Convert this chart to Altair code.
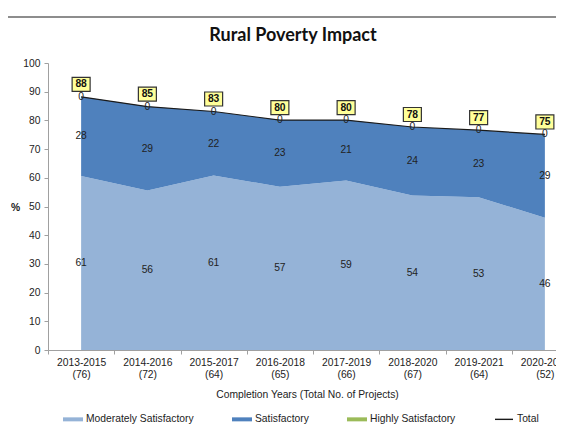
import altair as alt
import pandas as pd

# ---- data ----
periods = ["2013-2015", "2014-2016", "2015-2017", "2016-2018",
           "2017-2019", "2018-2020", "2019-2021", "2020-2022"]
projects = [76, 72, 64, 65, 66, 67, 64, 52]
moderately = [60.6, 55.6, 60.8, 56.9, 59.1, 53.8, 53.2, 46.1]
satisfactory = [27.6, 29.2, 22.3, 23.2, 21.0, 23.9, 23.4, 29.0]
highly = [0, 0, 0, 0, 0, 0, 0, 0]
total = [88.2, 84.8, 83.1, 80.1, 80.1, 77.7, 76.6, 75.1]

series = ["Moderately Satisfactory", "Satisfactory", "Highly Satisfactory", "Total"]
series_colors = ["#95B3D7", "#4F81BD", "#9BBB59", "#1a1a1a"]
bar_path = "M-1,-0.2H1V0.2H-1Z"
line_path = "M-0.9,-0.07H0.9V0.07H-0.9Z"
series_shapes = [bar_path, bar_path, bar_path, line_path]

cats = [f"{p} ({n})" for p, n in zip(periods, projects)]
df = pd.DataFrame({
    "cat": cats,
    "mod": moderately,
    "sat": satisfactory,
    "high": highly,
    "total": total,
})
df["top_sat"] = df["mod"] + df["sat"]
df["top_high"] = df["top_sat"] + df["high"]
df["mod_mid"] = df["mod"] / 2
df["sat_mid"] = df["mod"] + df["sat"] / 2
df["mod_lbl"] = df["mod"].round(0).astype(int).astype(str)
df["sat_lbl"] = df["sat"].round(0).astype(int).astype(str)
df["high_lbl"] = df["high"].round(0).astype(int).astype(str)
df["tot_lbl"] = df["total"].round(0).astype(int).astype(str)

FONT = "Liberation Sans"
FS = 10.3
TXT = "#222222"
AX = "#a0a0a0"
W, H = 508, 287      # svg is clipped at the right, the x range runs past it
XR = 530

xenc = alt.X(
    "cat:N", sort=cats, bandPosition=0.5,
    scale=alt.Scale(type="band", paddingInner=0, paddingOuter=0, range=[0, XR]),
    axis=alt.Axis(
        title="Completion Years (Total No. of Projects)",
        labelExpr="isValid(datum.value) ? split(datum.value, ' ') : ''",
        labelAngle=0, labelOverlap=False,
        tickBand="extent", tickSize=4, tickColor=AX, domainColor=AX,
        labelFont=FONT, labelFontSize=FS, labelColor=TXT, labelPadding=3,
        labelLineHeight=12, labelBaseline="top",
        titleFont=FONT, titleFontSize=FS, titleFontWeight="normal", titleColor=TXT,
        titleX=259, titleY=44, titleBaseline="middle", titleAlign="center",
    ),
)
yscale = alt.Scale(domain=[0, 100], nice=False)
yaxis = alt.Axis(
    values=list(range(0, 101, 10)), title="%", titleAngle=0, titleX=-33, titleY=144,
    titleAlign="center", titleBaseline="middle", titleFont=FONT, titleFontSize=FS,
    titleFontWeight="bold", titleColor=TXT, grid=False, tickSize=4, tickColor=AX,
    domainColor=AX, labelPadding=4, labelFont=FONT, labelFontSize=FS, labelColor=TXT,
)


def yenc(field):
    return alt.Y(field, scale=yscale, axis=yaxis)


base = alt.Chart(df)

area_mod = base.mark_area(color="#95B3D7").encode(x=xenc, y=yenc("mod:Q"))
area_sat = base.mark_area(color="#4F81BD").encode(x=xenc, y=yenc("top_sat:Q"), y2="mod:Q")
line_tot = base.mark_line(color="#1a1a1a", strokeWidth=1.2).encode(x=xenc, y=yenc("total:Q"))

txt_kw = dict(font=FONT, fontSize=FS, color=TXT, baseline="middle", align="center")
t_mod = base.mark_text(**txt_kw).encode(x=xenc, y=yenc("mod_mid:Q"), text="mod_lbl:N")
t_sat = base.mark_text(**txt_kw).encode(x=xenc, y=yenc("sat_mid:Q"), text="sat_lbl:N")
t_high = base.mark_text(**txt_kw).encode(x=xenc, y=yenc("top_high:Q"), text="high_lbl:N")

box = base.mark_point(
    shape="M-1,-0.78H1V0.78H-1Z", filled=True, fill="#FFFF99", stroke="#333333",
    strokeWidth=1.2, opacity=1, size=324, yOffset=-12.5,
).encode(x=xenc, y=yenc("total:Q"))
t_tot = base.mark_text(font=FONT, fontSize=FS, fontWeight="bold", color="#111111",
                       baseline="middle", align="center", dy=-12.5).encode(
    x=xenc, y=yenc("total:Q"), text="tot_lbl:N")

leg = alt.Legend(
    orient="none", legendX=15, legendY=346, direction="horizontal",
    title=None, symbolSize=400, symbolStrokeWidth=0, symbolOpacity=1,
    columnPadding=38, labelOffset=3, labelFont=FONT,
    labelFontSize=FS, labelColor=TXT)
leg_df = pd.DataFrame({"series": series})
legend_layer = alt.Chart(leg_df).mark_point(filled=True).encode(
    color=alt.Color("series:N", sort=series,
                    scale=alt.Scale(domain=series, range=series_colors), legend=leg),
    shape=alt.Shape("series:N", sort=series,
                    scale=alt.Scale(domain=series, range=series_shapes), legend=leg),
    opacity=alt.value(0),
)

frame = alt.Chart(leg_df).mark_rule(color="#8c8c8c", strokeWidth=1.5).encode(
    x=alt.value(-40), x2=alt.value(XR), y=alt.value(-46))

chart = alt.layer(
    area_mod, area_sat, line_tot, t_mod, t_sat, t_high, box, t_tot, legend_layer, frame
).properties(
    width=W, height=H,
    title=alt.TitleParams("Rural Poverty Impact", font="Lato", fontSize=18,
                          fontWeight="bold", color="#111111", anchor="middle",
                          frame="group", dx=-9, offset=18, dy=46.75),
    autosize=alt.AutoSizeParams(type="none"),
    padding={"left": 40, "top": 55, "right": 0, "bottom": 75},
).configure_view(strokeWidth=0)

chart.save("out.html", embed_options={"renderer": "svg", "actions": False})
